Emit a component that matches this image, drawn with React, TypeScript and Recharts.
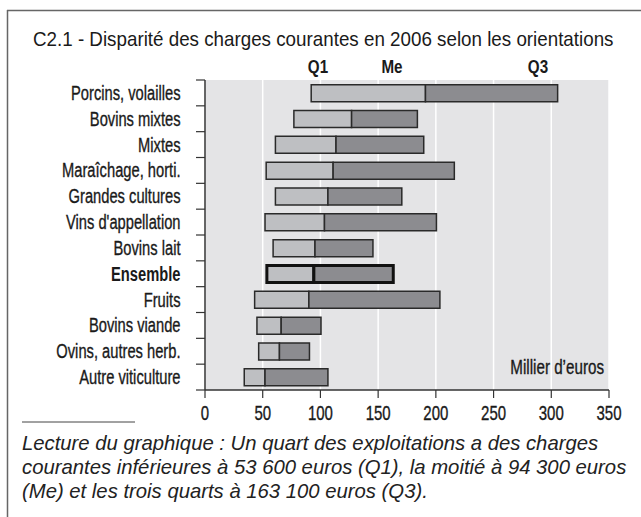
import React from "react";
import { BarChart, Bar, XAxis, YAxis, CartesianGrid, Cell } from "recharts";

const categories = [
  "Porcins, volailles",
  "Bovins mixtes",
  "Mixtes",
  "Maraîchage, horti.",
  "Grandes cultures",
  "Vins d'appellation",
  "Bovins lait",
  "Ensemble",
  "Fruits",
  "Bovins viande",
  "Ovins, autres herb.",
  "Autre viticulture",
];
const q1Values = [92, 77, 61, 53, 61, 52, 59, 53.6, 43, 45, 46.5, 34];
const meValues = [191, 127, 113.5, 111, 106.5, 103.5, 95.3, 94.3, 90, 66, 64.5, 52];
const q3Values = [305.5, 184, 189.5, 216, 170.5, 200.5, 145.5, 163.1, 203.5, 100.5, 90.5, 106.5];
const xTicks = [0, 50, 100, 150, 200, 250, 300, 350];
const highlight = "Ensemble";

const data = categories.map((name, i) => ({
  name,
  base: q1Values[i],
  low: meValues[i] - q1Values[i],
  high: q3Values[i] - meValues[i],
}));

const SANS = "'Liberation Sans', Arial, sans-serif";
const PLOT_TOP = 80;
const PLOT_BOTTOM = 390;
const BAND = (PLOT_BOTTOM - PLOT_TOP) / categories.length;

const Cond = ({ x, y, sx, anchor, size, bold, thick = 0.35, children }: any) => (
  <text
    transform={`translate(${x},${y}) scale(${sx},1)`}
    x={0}
    y={0}
    textAnchor={anchor}
    fontFamily={SANS}
    fontSize={size}
    fontWeight={bold ? 700 : 400}
    fill="#1a1a1a"
    stroke="#1a1a1a"
    strokeWidth={bold ? 0 : thick}
  >
    {children}
  </text>
);

const CatTick = (props: any) => {
  const { y, payload, index } = props;
  const bold = payload.value === highlight;
  return (
    <g>
      <line x1={196} x2={205} y1={y - BAND / 2} y2={y - BAND / 2} stroke="#333" strokeWidth={1.2} />
      {index === categories.length - 1 && (
        <line x1={196} x2={205} y1={y + BAND / 2} y2={y + BAND / 2} stroke="#333" strokeWidth={1.2} />
      )}
      <Cond x={180.5} y={y + 7} sx={0.735} anchor="end" size={20} bold={bold}>
        {payload.value}
      </Cond>
    </g>
  );
};

const NumTick = (props: any) => {
  const { x, payload } = props;
  return (
    <Cond x={x} y={420} sx={0.75} anchor="middle" size={20}>
      {payload.value}
    </Cond>
  );
};

export default function App() {
  return (
    <div style={{ position: "absolute", left: 0, top: 0, width: 641, height: 517, background: "#fff", overflow: "hidden" }}>
      <div style={{ position: "absolute", left: 0, top: 0 }}>
        <BarChart
          width={641}
          height={517}
          data={data}
          layout="vertical"
          margin={{ top: PLOT_TOP, right: 32, bottom: 97, left: 0 }}
          barCategoryGap="18%"
        >
          <CartesianGrid horizontal={false} vertical={true} stroke="#ffffff" strokeWidth={1.5} fill="#e4e4e6" fillOpacity={1} />
          <XAxis
            type="number"
            domain={[0, 350]}
            ticks={xTicks}
            interval={0}
            axisLine={{ stroke: "#333", strokeWidth: 1.5 }}
            tickLine={{ stroke: "#333", strokeWidth: 1.2 }}
            tickSize={8}
            height={30}
            tick={<NumTick />}
          />
          <YAxis
            type="category"
            dataKey="name"
            width={205}
            axisLine={{ stroke: "#333", strokeWidth: 1.5 }}
            tickLine={false}
            interval={0}
            tick={<CatTick />}
          />
          <Bar dataKey="base" stackId="s" fill="none" stroke="none" isAnimationActive={false} />
          <Bar dataKey="low" stackId="s" fill="#bebfc2" stroke="#222" strokeWidth={1.5} isAnimationActive={false}>
            {data.map((d) => (
              <Cell key={d.name} stroke={d.name === highlight ? "#111" : "#2a2a2a"} strokeWidth={d.name === highlight ? 3 : 1.5} />
            ))}
          </Bar>
          <Bar dataKey="high" stackId="s" fill="#8c8c90" stroke="#222" strokeWidth={1.5} isAnimationActive={false}>
            {data.map((d) => (
              <Cell key={d.name} stroke={d.name === highlight ? "#111" : "#2a2a2a"} strokeWidth={d.name === highlight ? 3 : 1.5} />
            ))}
          </Bar>
        </BarChart>
      </div>
      <svg width={641} height={517} style={{ position: "absolute", left: 0, top: 0, pointerEvents: "none" }}>
        <line x1={7.5} y1={10} x2={7.5} y2={517} stroke="#666" strokeWidth={1.5} />
        <line x1={7} y1={10.5} x2={641} y2={10.5} stroke="#666" strokeWidth={1.5} />
        <Cond x={33} y={46} sx={0.94} anchor="start" size={20} thick={0}>
          C2.1 - Disparité des charges courantes en 2006 selon les orientations
        </Cond>
        <Cond x={318} y={73} sx={0.8} anchor="middle" size={19} bold>Q1</Cond>
        <Cond x={392} y={73} sx={0.8} anchor="middle" size={19} bold>Me</Cond>
        <Cond x={538} y={73} sx={0.8} anchor="middle" size={19} bold>Q3</Cond>
        <Cond x={604} y={374} sx={0.76} anchor="end" size={20}>Millier d’euros</Cond>
        <line x1={22} y1={422} x2={135} y2={422} stroke="#444" strokeWidth={1} />
        <g fontFamily={SANS} fontStyle="italic" fontSize={20.3} fill="#222">
          <text x={22} y={450}>Lecture du graphique : Un quart des exploitations a des charges</text>
          <text x={22} y={474}>courantes inférieures à 53 600 euros (Q1), la moitié à 94 300 euros</text>
          <text x={22} y={498}>(Me) et les trois quarts à 163 100 euros (Q3).</text>
        </g>
      </svg>
    </div>
  );
}
